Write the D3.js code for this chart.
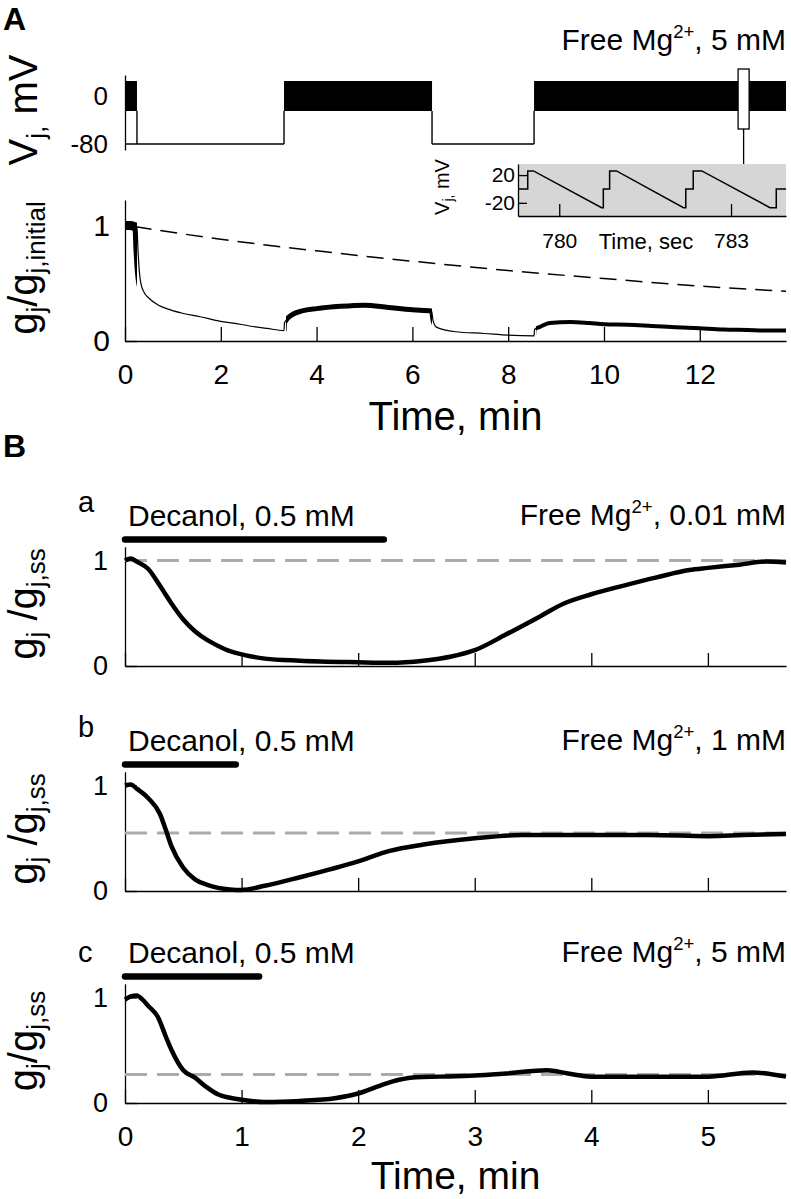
<!DOCTYPE html>
<html><head><meta charset="utf-8">
<script src="https://cdn.jsdelivr.net/npm/d3@7"></script>
<style>
body{margin:0;background:#fff}
svg{display:block}
text{font-family:"Liberation Sans",Arial,Helvetica,sans-serif;fill:#000}
</style>
</head><body>
<svg id="chart" width="791" height="1199"></svg>
<script>
// ---------------- DATA ----------------
// Panel A: voltage protocol (min)
const protoStart = [0, 0.25, 3.32, 6.41, 8.54];
const protoEnd   = [0.25, 3.32, 6.41, 8.54, 13.8];
const protoType  = ["saw", "hold", "saw", "hold", "saw"];
const holdMV = -80, sawLowMV = -25, sawHighMV = 25;
const markerT = [12.8, 13.03];
const markerMV = [-55, 45];
const vjTicks = [-80, 0];

// Panel A: gj / gj,initial vs time (min)
const gjA = [
  [0,1.0],[0.1,1.0],[0.2,0.99],[0.25,0.98],[0.27,0.8],[0.3,0.6],[0.33,0.5],[0.4,0.42],
  [0.5,0.37],[0.7,0.31],[0.87,0.28],[1.2,0.24],[1.57,0.21],[2.0,0.17],[2.26,0.155],
  [2.6,0.13],[2.96,0.11],[3.32,0.09],[3.33,0.16],[3.5,0.23],[3.7,0.26],[4.0,0.28],
  [4.5,0.30],[5.0,0.31],[5.5,0.29],[6.0,0.27],[6.4,0.26],[6.43,0.18],[6.5,0.12],
  [6.9,0.08],[7.5,0.065],[8.0,0.05],[8.54,0.045],[8.55,0.1],[8.65,0.12],[8.87,0.155],
  [9.3,0.165],[9.7,0.155],[10.0,0.145],[10.5,0.14],[11.0,0.13],[11.5,0.12],[12.0,0.11],
  [12.5,0.1],[13.0,0.095],[13.4,0.09],[13.8,0.09]
];
// Panel A: dashed reference (run-down) curve
const refA = [[0.2,0.99],[2,0.88],[4,0.78],[6,0.69],[8,0.61],[10,0.54],[12,0.475],[13.8,0.43]];
const ticksA = [0, 2, 4, 6, 8, 10, 12];
const gjATicks = [0, 1];

// Inset: Vj (mV) vs time (sec)
const insetT = [779.28,779.45,779.45,779.55,780.74,780.77,780.77,780.88,780.88,781.0,
                782.17,782.21,782.21,782.34,782.34,782.49,783.68,783.79,783.79,783.96];
const insetV = [0,0,26,26,-27,-27,0,0,26,26,-27,-27,0,0,26,26,-27,-27,0,0];
const insetXTicks = [780, 783];
const insetYTicks = [-20, 20];

// Panel B: gj / gj,ss vs time (min)
const gjBa = [
  [0,1.0],[0.05,1.02],[0.1,0.99],[0.2,0.92],[0.3,0.76],[0.4,0.59],[0.5,0.44],[0.6,0.33],
  [0.7,0.25],[0.8,0.19],[0.9,0.14],[1.0,0.11],[1.2,0.07],[1.5,0.05],[2.0,0.035],[2.27,0.03],
  [2.56,0.05],[2.8,0.09],[3.0,0.15],[3.27,0.3],[3.56,0.47],[3.76,0.59],[4.0,0.68],
  [4.27,0.76],[4.56,0.84],[4.84,0.91],[5.0,0.93],[5.27,0.96],[5.5,0.99],[5.67,0.98]
];
const gjBb = [
  [0,1.0],[0.05,1.01],[0.1,0.97],[0.2,0.88],[0.3,0.73],[0.35,0.58],[0.4,0.42],[0.5,0.22],
  [0.6,0.11],[0.7,0.06],[0.8,0.03],[0.9,0.015],[1.0,0.01],[1.2,0.05],[1.5,0.13],[2.0,0.28],
  [2.27,0.38],[2.56,0.44],[3.0,0.50],[3.4,0.53],[4.0,0.53],[4.5,0.53],[5.0,0.52],
  [5.3,0.53],[5.67,0.54]
];
const gjBc = [
  [0,0.98],[0.05,1.01],[0.1,1.02],[0.15,0.98],[0.2,0.92],[0.28,0.82],[0.35,0.63],[0.4,0.5],
  [0.5,0.31],[0.6,0.24],[0.7,0.15],[0.8,0.08],[0.9,0.05],[1.0,0.03],[1.2,0.01],[1.5,0.02],
  [1.8,0.045],[2.0,0.09],[2.2,0.17],[2.35,0.22],[2.5,0.245],[2.7,0.25],[3.0,0.26],[3.27,0.28],
  [3.62,0.31],[3.8,0.28],[4.0,0.25],[4.56,0.25],[5.0,0.25],[5.38,0.29],[5.67,0.25]
];
const ssLevel = [1.0, 0.55, 0.27];
const decanolEnd = [2.22, 0.95, 1.15];
const panelLetters = ["a", "b", "c"];
const mgConc = ["0.01", "1", "5"];
const ticksB = [0, 1, 2, 3, 4, 5];
const gjBTicks = [0, 1];

// ---------------- DRAW ----------------
const FONT = '"Liberation Sans",Arial,Helvetica,sans-serif';
const plain = d => String(d);   // hyphen-minus, integers
const svg = d3.select("#chart");
svg.append("rect").attr("width", 791).attr("height", 1199).attr("fill", "#fff");

function styleAxis(g, size) {
  g.attr("font-family", FONT).attr("font-size", size);
  g.selectAll("path.domain").attr("stroke", "#000").attr("stroke-width", 1.3);
  g.selectAll(".tick line").attr("stroke", "#000").attr("stroke-width", 1.3);
  g.selectAll(".tick text").attr("fill", "#000");
}

// rotated label with subscripts: parts = [[text, isSub], ...]
function rotLabel(x, yc, parts, big, small, shift) {
  const t = svg.append("text")
    .attr("transform", `translate(${x},${yc}) rotate(-90)`)
    .attr("text-anchor", "middle")
    .attr("font-size", big);
  let cur = 0;
  parts.forEach(([s, sub]) => {
    const target = sub ? shift : 0;
    t.append("tspan").attr("font-size", sub ? small : big)
      .attr("dy", target - cur).text(s);
    cur = target;
  });
  return t;
}

// Free Mg label
function mgText(x, y, conc, size) {
  const t = svg.append("text").attr("x", x).attr("y", y).attr("text-anchor", "end")
    .attr("font-size", size);
  t.append("tspan").text("Free Mg");
  t.append("tspan").attr("font-size", size * 0.62).attr("dy", -size * 0.4).text("2+");
  t.append("tspan").attr("dy", size * 0.4).text(", " + conc + " mM");
}

// ---------- Panel A ----------
svg.append("text").attr("x", 3).attr("y", 30).attr("font-size", 32)
  .attr("font-weight", "bold").text("A");

const xA = d3.scaleLinear().domain([0, 13.8]).range([125, 786]);
const yVj = d3.scaleLinear().domain([-90, 35]).range([150, 75]);
const yGA = d3.scaleLinear().domain([0, 1.22]).range([341, 200]);

mgText(786, 50, "5", 30);

// Vj axis
const vjAxis = svg.append("g").attr("transform", "translate(125,0)")
  .call(d3.axisLeft(yVj).tickValues(vjTicks).tickSize(0).tickSizeOuter(0).tickPadding(17)
    .tickFormat(plain));
styleAxis(vjAxis, 26);

// holding (-80 mV) lines and transitions
const vjG = svg.append("g");
protoType.forEach((tp, i) => {
  if (tp === "hold") {
    const s = (i === 1) ? protoStart[0] : protoStart[i];
    vjG.append("line").attr("x1", xA(s)).attr("x2", xA(protoEnd[i]))
      .attr("y1", yVj(holdMV)).attr("y2", yVj(holdMV))
      .attr("stroke", "#000").attr("stroke-width", 1.4);
    [protoStart[i], protoEnd[i]].forEach(tt => {
      vjG.append("line").attr("x1", xA(tt)).attr("x2", xA(tt))
        .attr("y1", yVj(holdMV)).attr("y2", yVj(sawLowMV))
        .attr("stroke", "#000").attr("stroke-width", 1.4);
    });
  }
});
protoType.forEach((tp, i) => {
  if (tp === "saw") {
    vjG.append("rect").attr("x", xA(protoStart[i])).attr("width", xA(protoEnd[i]) - xA(protoStart[i]))
      .attr("y", yVj(sawHighMV)).attr("height", yVj(sawLowMV) - yVj(sawHighMV))
      .attr("fill", "#000");
  }
});
// marker box and connector
const mX = (markerT[0] + markerT[1]) / 2;
vjG.append("line").attr("x1", xA(mX)).attr("x2", xA(mX))
  .attr("y1", yVj(markerMV[0])).attr("y2", 164)
  .attr("stroke", "#000").attr("stroke-width", 1.3);
vjG.append("rect").attr("x", xA(markerT[0])).attr("width", xA(markerT[1]) - xA(markerT[0]))
  .attr("y", yVj(markerMV[1])).attr("height", yVj(markerMV[0]) - yVj(markerMV[1]))
  .attr("fill", "#fff").attr("stroke", "#000").attr("stroke-width", 1.3);

rotLabel(37, 110, [["V", false], ["j,", true], [" mV", false]], 40, 26, 8);

// Inset
const xIn = d3.scaleLinear().domain([779.28, 783.96]).range([518, 786]);
const yIn = d3.scaleLinear().domain([-39, 36]).range([216, 164]);
svg.append("rect").attr("x", 518).attr("y", 164).attr("width", 786 - 518).attr("height", 216 - 164)
  .attr("fill", "#d6d6d6");
const inXAxis = svg.append("g").attr("transform", "translate(0,216)")
  .call(d3.axisBottom(xIn).tickValues(insetXTicks).tickSizeInner(-12).tickSizeOuter(0)
    .tickPadding(17).tickFormat(plain));
styleAxis(inXAxis, 21);
const inYAxis = svg.append("g").attr("transform", "translate(518,0)")
  .call(d3.axisLeft(yIn).tickValues(insetYTicks).tickSizeInner(-9).tickSizeOuter(0)
    .tickPadding(3).tickFormat(plain));
styleAxis(inYAxis, 21);
svg.append("path")
  .datum(insetT.map((t, i) => [t, insetV[i]]))
  .attr("fill", "none").attr("stroke", "#000").attr("stroke-width", 1.5)
  .attr("d", d3.line().x(d => xIn(d[0])).y(d => yIn(d[1])));
svg.append("text").attr("x", 646).attr("y", 249).attr("text-anchor", "middle")
  .attr("font-size", 22).text("Time, sec");
rotLabel(449, 187, [["V", false], ["j,", true], [" mV", false]], 20, 14, 4);

// gj axis
const gAAxisX = svg.append("g").attr("transform", "translate(0,341)")
  .call(d3.axisBottom(xA).tickValues(ticksA).tickSizeInner(-14).tickSizeOuter(0)
    .tickPadding(23).tickFormat(plain));
styleAxis(gAAxisX, 28);
const gAAxisY = svg.append("g").attr("transform", "translate(125,0)")
  .call(d3.axisLeft(yGA).tickValues(gjATicks).tickSizeInner(-12).tickSizeOuter(0)
    .tickPadding(15).tickFormat(plain));
styleAxis(gAAxisY, 30);

// dashed reference
svg.append("path").datum(refA)
  .attr("fill", "none").attr("stroke", "#000").attr("stroke-width", 1.5)
  .attr("stroke-dasharray", "17,9")
  .attr("d", d3.line().x(d => xA(d[0])).y(d => yGA(d[1])).curve(d3.curveMonotoneX));

// gj trace: thin everywhere, thick (noisy) during sawtooth periods
const lineA = d3.line().x(d => xA(d[0])).y(d => yGA(d[1])).curve(d3.curveMonotoneX);
svg.append("path").datum(gjA).attr("fill", "none").attr("stroke", "#000")
  .attr("stroke-width", 1.2).attr("d", lineA);
const defs = svg.append("defs");
const sawWidths = {0: 9, 2: 5, 4: 4};
protoType.forEach((tp, i) => {
  if (tp !== "saw") return;
  const id = "clipSaw" + i;
  defs.append("clipPath").attr("id", id).append("rect")
    .attr("x", xA(protoStart[i]) + (i === 0 ? 0 : 2)).attr("y", 190)
    .attr("width", xA(protoEnd[i]) - xA(protoStart[i]) - (i === 0 ? 0 : 2)).attr("height", 160);
  svg.append("path").datum(gjA).attr("fill", "none").attr("stroke", "#000")
    .attr("stroke-width", sawWidths[i]).attr("clip-path", `url(#${id})`).attr("d", lineA);
});

rotLabel(37, 268, [["g", false], ["j", true], ["/g", false], ["j,initial", true]], 40, 26, 8);

svg.append("text").attr("x", 455.5).attr("y", 430).attr("text-anchor", "middle")
  .attr("font-size", 40).text("Time, min");

// ---------- Panel B ----------
svg.append("text").attr("x", 3).attr("y", 457).attr("font-size", 32)
  .attr("font-weight", "bold").text("B");

const xB = d3.scaleLinear().domain([0, 5.67]).range([125, 786]);
const zeroY = [666, 891, 1103];
const letterOff = [154, 154, 141];
const traces = [gjBa, gjBb, gjBc];

traces.forEach((data, i) => {
  const z = zeroY[i];
  const yB = d3.scaleLinear().domain([0, 1.13]).range([z, z - 1.13 * 105.5]);

  const ax = svg.append("g").attr("transform", `translate(0,${z})`)
    .call(d3.axisBottom(xB).tickValues(ticksB).tickSizeInner(-13).tickSizeOuter(0)
      .tickPadding(23).tickFormat(i === 2 ? plain : () => ""));
  styleAxis(ax, 28);
  const ay = svg.append("g").attr("transform", "translate(125,0)")
    .call(d3.axisLeft(yB).tickValues(gjBTicks).tickSizeInner(-12).tickSizeOuter(0)
      .tickPadding(17).tickFormat(plain));
  styleAxis(ay, 27);

  // steady-state dashed line
  svg.append("line").attr("x1", xB(0)).attr("x2", xB(5.67))
    .attr("y1", yB(ssLevel[i])).attr("y2", yB(ssLevel[i]))
    .attr("stroke", "#ababab").attr("stroke-width", 3).attr("stroke-dasharray", "22,10");

  // trace
  svg.append("path").datum(data).attr("fill", "none").attr("stroke", "#000")
    .attr("stroke-width", 4.5).attr("stroke-linejoin", "round")
    .attr("d", d3.line().x(d => xB(d[0])).y(d => yB(d[1])).curve(d3.curveMonotoneX));

  // decanol bar
  svg.append("line").attr("x1", xB(0)).attr("x2", xB(decanolEnd[i]))
    .attr("y1", yB(1.2)).attr("y2", yB(1.2))
    .attr("stroke", "#000").attr("stroke-width", 6.5).attr("stroke-linecap", "round");
  svg.append("text").attr("x", 128).attr("y", z - 140).attr("font-size", 30)
    .text("Decanol, 0.5 mM");
  svg.append("text").attr("x", 78).attr("y", z - letterOff[i]).attr("font-size", 29)
    .text(panelLetters[i]);
  mgText(786, z - 141, mgConc[i], 30);

  const parts = i === 2
    ? [["g", false], ["j", true], ["/g", false], ["j,ss", true]]
    : [["g", false], ["j", true], [" /g", false], ["j,ss", true]];
  rotLabel(37, z - 62, parts, 40, 26, 8);
});

svg.append("text").attr("x", 455.5).attr("y", 1189).attr("text-anchor", "middle")
  .attr("font-size", 39).text("Time, min");
</script>
</body></html>
